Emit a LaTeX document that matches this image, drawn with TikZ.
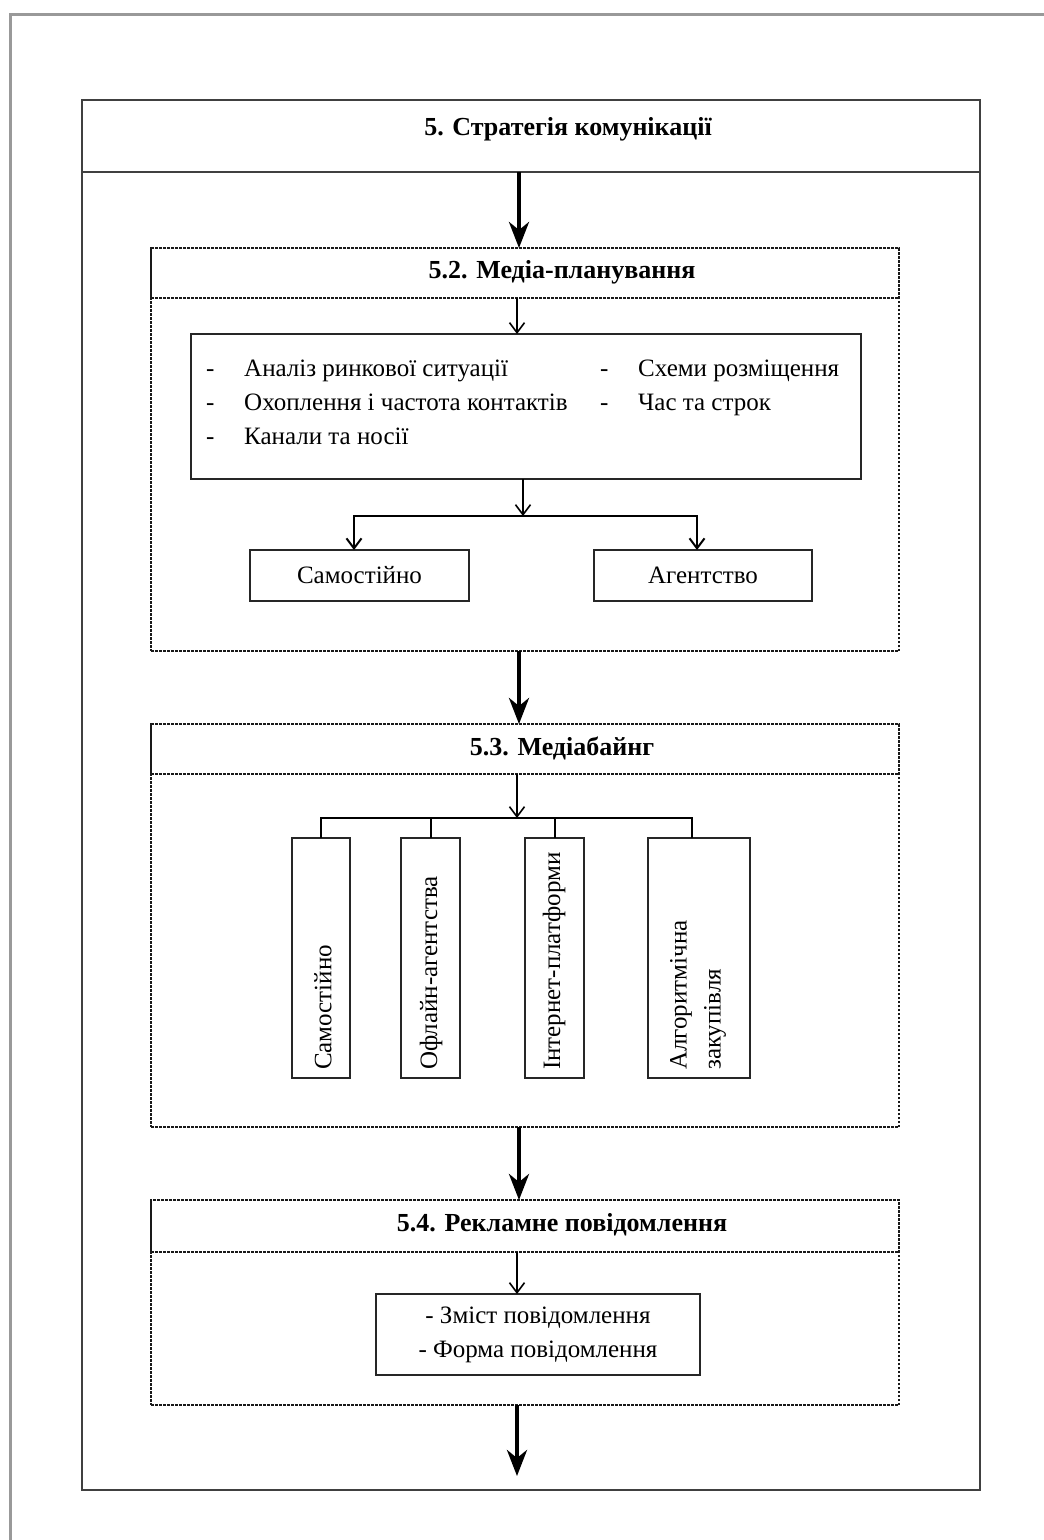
\documentclass[tikz,border=0pt]{standalone}
\usepackage{fontspec}
\setmainfont{Liberation Serif}
\usetikzlibrary{arrows.meta}
\begin{document}
\begin{tikzpicture}[x=1pt,y=-1pt,
  frame/.style={draw=black!75, line width=2.2pt, inner sep=0pt, outer sep=0pt},
  dbox/.style={draw=black!90, line width=2pt, dash pattern=on 2.5pt off 1.5pt, inner sep=0pt, outer sep=0pt},
  sbox/.style={draw=black!85, line width=2pt, inner sep=0pt, outer sep=0pt},
  ttl/.style={font=\fontsize{26}{30}\selectfont\bfseries, inner sep=0pt},
  body/.style={font=\fontsize{25}{34}\selectfont, inner sep=0pt},
  bigarrow/.style={line width=4pt, -{Stealth[length=26pt,width=20pt,inset=8pt]}},
  smallarrow/.style={line width=1.6pt, -{Straight Barb[length=10pt,width=15pt]}},
  link/.style={line width=2pt, draw=black},
]
\useasboundingbox (0,0) rectangle (1044,1540);
% page frame
\draw[draw=black!40, line width=3pt] (10,1540) -- (10,14) -- (1044,14);

% main frame
\node[frame, minimum width=898, minimum height=1390] (main) at (531,795) {};
\node[frame, minimum width=898, minimum height=72] (mainh) at (531,136) {};
\node[ttl] (maint) at (568,129) {5. Стратегія комунікації};

\coordinate (ax) at (519,0);
\coordinate (tx) at (517,0);

% 5.2
\node[dbox, minimum width=748, minimum height=403] (b52) at (525,449.5) {};
\node[dbox, minimum width=748, minimum height=50] (b52h) at (525,273) {};
\node[ttl] (b52t) at (562,272) {5.2. Медіа-планування};
\node[sbox, minimum width=670, minimum height=145] (plan) at (526,406.5) {};
\node[body, anchor=base west] (p1d) at (206,376) {-};
\node[body, anchor=base west] (p1) at (244,376) {Аналіз ринкової ситуації};
\node[body, anchor=base west] (p2d) at (206,410) {-};
\node[body, anchor=base west] (p2) at (244,410) {Охоплення і частота контактів};
\node[body, anchor=base west] (p3d) at (206,444) {-};
\node[body, anchor=base west] (p3) at (244,444) {Канали та носії};
\node[body, anchor=base west] (p4d) at (600,376) {-};
\node[body, anchor=base west] (p4) at (638,376) {Схеми розміщення};
\node[body, anchor=base west] (p5d) at (600,410) {-};
\node[body, anchor=base west] (p5) at (638,410) {Час та строк};
\node[sbox, body, minimum width=219, minimum height=51] (sam) at (359.5,575.5) {Самостійно};
\node[sbox, body, minimum width=218, minimum height=51] (ag) at (703,575.5) {Агентство};
\coordinate (sp) at (523,516);
\coordinate (spl) at (354,516);
\coordinate (spr) at (697,516);

\draw[smallarrow] (tx |- b52h.south) -- (tx |- plan.north);
\draw[smallarrow] (sp |- plan.south) -- (sp);
\draw[smallarrow, link] (sp) -- (spl) -- (spl |- sam.north);
\draw[smallarrow, link] (sp) -- (spr) -- (spr |- ag.north);

% 5.3
\node[dbox, minimum width=748, minimum height=403] (b53) at (525,925.5) {};
\node[dbox, minimum width=748, minimum height=50] (b53h) at (525,749) {};
\node[ttl] (b53t) at (562,748) {5.3. Медіабайнг};
\node[sbox, minimum width=58, minimum height=240] (v1) at (321,958) {};
\node[sbox, minimum width=59, minimum height=240] (v2) at (430.5,958) {};
\node[sbox, minimum width=59, minimum height=240] (v3) at (554.5,958) {};
\node[sbox, minimum width=102, minimum height=240] (v4) at (698.5,958) {};
\node[body, rotate=90, anchor=west] (vt1) at (323,1070) {Самостійно};
\node[body, rotate=90, anchor=west] (vt2) at (431,1070) {Офлайн-агентства};
\node[body, rotate=90, anchor=west] (vt3) at (554,1070) {Інтернет-платформи};
\node[body, rotate=90, anchor=west, align=left] (vt4) at (698,1070) {Алгоритмічна\\закупівля};
\coordinate (hl) at (517,818);
\coordinate (hr) at (692,818);
\draw[smallarrow] (hl |- b53h.south) -- (hl);
\draw[link] (v1.north) |- (hl) -- (hr) -- (hr |- v4.north);
\draw[link] (v2.north) -- (v2.north |- hl);
\draw[link] (v3.north) -- (v3.north |- hl);

% 5.4
\node[dbox, minimum width=748, minimum height=205] (b54) at (525,1302.5) {};
\node[dbox, minimum width=748, minimum height=52] (b54h) at (525,1226) {};
\node[ttl] (b54t) at (562,1225) {5.4. Рекламне повідомлення};
\node[sbox, body, align=center, minimum width=324, minimum height=81] (msg) at (538,1334.5) {- Зміст повідомлення\\- Форма повідомлення};
\draw[smallarrow] (tx |- b54h.south) -- (tx |- msg.north);

% big arrows
\coordinate (endp) at (517,1476);
\draw[bigarrow] (ax |- mainh.south) -- (ax |- b52.north);
\draw[bigarrow] (ax |- b52.south) -- (ax |- b53.north);
\draw[bigarrow] (ax |- b53.south) -- (ax |- b54.north);
\draw[bigarrow] (endp |- b54.south) -- (endp);
\end{tikzpicture}
\end{document}
